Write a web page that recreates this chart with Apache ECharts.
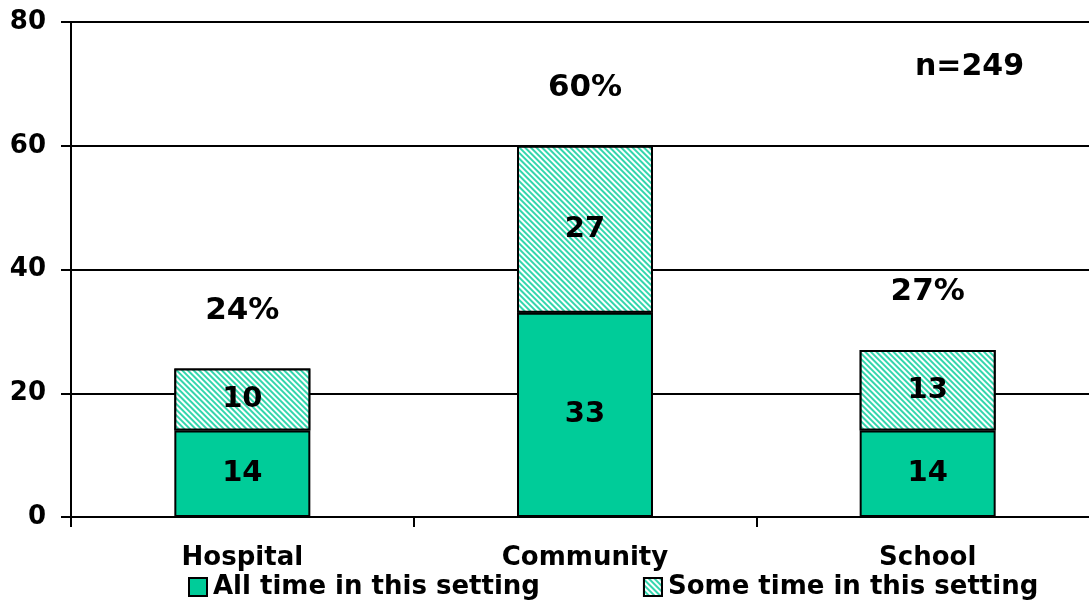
<!DOCTYPE html>
<html><head><meta charset="utf-8">
<script src="https://cdn.jsdelivr.net/npm/echarts@6/dist/echarts.min.js"></script>
<style>html,body{margin:0;padding:0;background:#fff}#c{width:1089px;height:601px}</style>
</head><body><div id="c"></div>
<script>
const categories = ['Hospital', 'Community', 'School'];
const allTime = [14, 33, 14];
const someTime = [10, 27, 13];
const totals = [24, 60, 27];
const totalLabels = ['24%', '60%', '27%'];
const yTicks = [0, 20, 40, 60, 80];
const seriesNames = ['All time in this setting', 'Some time in this setting'];
const noteText = 'n=249';

const FONT = '"DejaVu Sans", Verdana, sans-serif';
const GREEN = '#00CC99';

const hatch = {
  symbol: 'rect', color: '#33d6ad', backgroundColor: '#ffffff',
  dashArrayX: [1, 0], dashArrayY: [1.5, 1.5], rotation: Math.PI / 4, symbolSize: 1
};

const chart = echarts.init(document.getElementById('c'));
const labelStyle = { show: true, position: 'inside', color: '#000', fontWeight: 'bold', fontSize: 29, fontFamily: FONT };
chart.setOption({
  animation: false,
  textStyle: { fontFamily: FONT },
  grid: { left: 71, right: -10, top: 22, bottom: 84, containLabel: false, outerBoundsMode: 'none' },
  legend: {
    left: 183, bottom: -4, icon: 'rect',
    itemWidth: 18, itemHeight: 18, itemGap: 103,
    textStyle: { fontSize: 26, fontWeight: 'bold', color: '#000', fontFamily: FONT, padding: [0, 0, 0, 1] },
    data: seriesNames.map(n => ({ name: n, itemStyle: { borderColor: '#000', borderWidth: 2 } }))
  },
  xAxis: {
    type: 'category', data: categories, boundaryGap: true,
    axisLine: { lineStyle: { color: '#000', width: 2 } },
    axisTick: { show: true, length: 10, lineStyle: { color: '#000', width: 2 } },
    axisLabel: { color: '#000', fontWeight: 'bold', fontSize: 26, margin: 28, fontFamily: FONT }
  },
  yAxis: {
    type: 'value', min: 0, max: 80, interval: 20,
    axisLine: { show: true, lineStyle: { color: '#000', width: 2 } },
    axisTick: { show: true, length: 10, lineStyle: { color: '#000', width: 2 } },
    splitLine: { show: true, lineStyle: { color: '#000', width: 2 } },
    axisLabel: { color: '#000', fontWeight: 'bold', fontSize: 26, margin: 25, fontFamily: FONT,
      formatter: v => yTicks.includes(v) ? String(v) : '' }
  },
  series: [
    { name: seriesNames[0], type: 'bar', stack: 's', data: allTime, barWidth: 136,
      itemStyle: { color: GREEN, borderColor: '#000', borderWidth: 2 }, label: labelStyle },
    { name: seriesNames[1], type: 'bar', stack: 's', data: someTime, barWidth: 136,
      itemStyle: { color: '#ffffff', decal: hatch, borderColor: '#000', borderWidth: 2 }, label: labelStyle },
    { name: 'total', type: 'scatter', data: totals, symbolSize: 0, silent: true,
      itemStyle: { opacity: 1 },
      label: { show: true, position: 'inside', offset: [0, -58], color: '#000', opacity: 1, fontWeight: 'bold', fontSize: 31, fontFamily: FONT,
        formatter: p => totalLabels[p.dataIndex] } }
  ],
  graphic: [{ type: 'text', left: 915, top: 52, style: { text: noteText, fill: '#000', font: 'bold 30px ' + FONT } }]
});
</script></body></html>
